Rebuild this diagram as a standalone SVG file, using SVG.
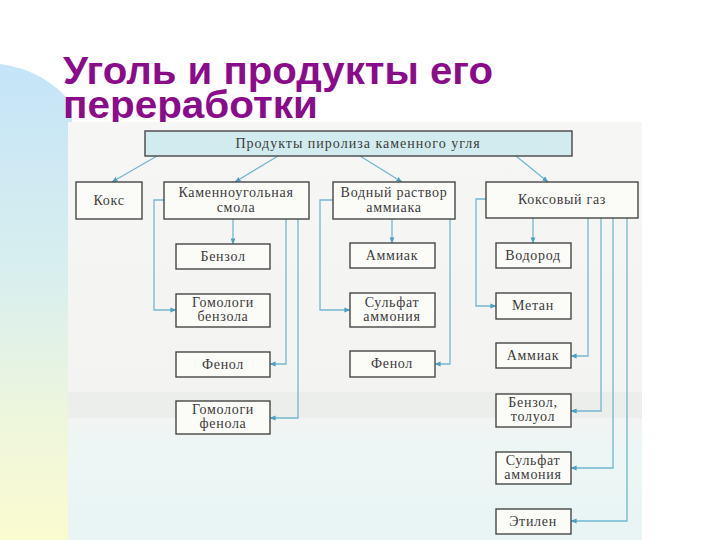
<svg xmlns="http://www.w3.org/2000/svg" width="720" height="540" viewBox="0 0 720 540">
<defs>
<linearGradient id="side" x1="0" y1="0" x2="0" y2="1">
<stop offset="0" stop-color="#c4e4f8"/>
<stop offset="0.45" stop-color="#d9efee"/>
<stop offset="0.75" stop-color="#eef6dc"/>
<stop offset="1" stop-color="#fbfbd0"/>
</linearGradient>
<linearGradient id="photo" x1="0" y1="0" x2="0" y2="1">
<stop offset="0" stop-color="#f6f6f4"/>
<stop offset="0.7" stop-color="#f3f4f2"/>
<stop offset="0.78" stop-color="#ecf6f5"/>
<stop offset="1" stop-color="#e8f5f4"/>
</linearGradient>
<marker id="arr" viewBox="0 0 8 8" refX="7.5" refY="4" markerWidth="6" markerHeight="6" markerUnits="userSpaceOnUse" orient="auto">
<path d="M0,0.8 L8,4 L0,7.2 Z" fill="#4f9fbd"/>
</marker>
<style>
.title{font-family:"Liberation Sans",Arial,sans-serif;font-weight:bold;font-size:38px;fill:#8a0c8a}
.box rect{fill:#fbfbf8;stroke:#464646;stroke-width:1.4}
.box text{font-family:"Liberation Serif","Times New Roman",serif;font-size:14px;letter-spacing:0.7px;fill:#3c3c3c;text-anchor:middle}
#top rect{fill:#d2ebee}
#top text{letter-spacing:1px}
.conn path{fill:none;stroke:#73b6cf;stroke-width:1.3;marker-end:url(#arr)}
</style>
</defs>
<rect width="720" height="540" fill="#ffffff"/>
<path d="M0,64 Q45,70 72,104 L72,540 L0,540 Z" fill="url(#side)"/>
<text class="title" x="63" y="84" textLength="430" lengthAdjust="spacingAndGlyphs">Уголь и продукты его</text>
<text class="title" x="63" y="118" textLength="255" lengthAdjust="spacingAndGlyphs">переработки</text>
<rect x="68" y="122" width="574" height="418" fill="url(#photo)"/>
<rect x="68" y="392" width="574" height="26" fill="#e6e7e4" opacity="0.5"/>

<g class="conn">
<path d="M157,156 L112,182"/>
<path d="M278,156 L235,182"/>
<path d="M360,156 L402,182"/>
<path d="M516,156 L548,182"/>
<path d="M233,219 V244"/>
<path d="M164,200 H154 V310 H176"/>
<path d="M286,219 V364 H270"/>
<path d="M298,219 V418 H270"/>
<path d="M392,219 V243"/>
<path d="M333,200 H320 V310 H350"/>
<path d="M450,219 V364 H435"/>
<path d="M533,218 V243"/>
<path d="M486,199 H476 V306 H496"/>
<path d="M588,218 V356 H571"/>
<path d="M601,218 V411 H571"/>
<path d="M613,218 V468 H571"/>
<path d="M627,218 V521 H571"/>
</g>

<g id="top" class="box"><rect x="145" y="131" width="427" height="25"/><text x="358" y="148">Продукты пиролиза каменного угля</text></g>
<g id="koks" class="box"><rect x="76" y="182" width="66" height="37"/><text x="109" y="205">Кокс</text></g>
<g id="smola" class="box"><rect x="164" y="182" width="145" height="37"/><text x="236" y="197">Каменноугольная</text><text x="236" y="212">смола</text></g>
<g id="voda" class="box"><rect x="333" y="182" width="122" height="37"/><text x="394" y="197">Водный раствор</text><text x="394" y="212">аммиака</text></g>
<g id="gaz" class="box"><rect x="486" y="182" width="152" height="36"/><text x="562" y="204">Коксовый газ</text></g>

<g id="benzol" class="box"><rect x="176" y="244" width="94" height="25"/><text x="223" y="261">Бензол</text></g>
<g id="gombenz" class="box"><rect x="176" y="294" width="94" height="33"/><text x="223" y="307">Гомологи</text><text x="223" y="321">бензола</text></g>
<g id="fenol1" class="box"><rect x="176" y="352" width="94" height="25"/><text x="223" y="369">Фенол</text></g>
<g id="gomfen" class="box"><rect x="176" y="401" width="94" height="33"/><text x="223" y="414">Гомологи</text><text x="223" y="428">фенола</text></g>

<g id="ammiak1" class="box"><rect x="350" y="243" width="85" height="25"/><text x="392" y="260">Аммиак</text></g>
<g id="sulf1" class="box"><rect x="350" y="293" width="85" height="34"/><text x="392" y="307">Сульфат</text><text x="392" y="321">аммония</text></g>
<g id="fenol2" class="box"><rect x="350" y="351" width="85" height="26"/><text x="392" y="368">Фенол</text></g>

<g id="vodorod" class="box"><rect x="496" y="243" width="75" height="25"/><text x="533" y="260">Водород</text></g>
<g id="metan" class="box"><rect x="496" y="293" width="75" height="26"/><text x="533" y="310">Метан</text></g>
<g id="ammiak2" class="box"><rect x="496" y="343" width="75" height="25"/><text x="533" y="360">Аммиак</text></g>
<g id="benztol" class="box"><rect x="496" y="394" width="75" height="33"/><text x="533" y="407">Бензол,</text><text x="533" y="421">толуол</text></g>
<g id="sulf2" class="box"><rect x="496" y="452" width="75" height="32"/><text x="533" y="465">Сульфат</text><text x="533" y="479">аммония</text></g>
<g id="etilen" class="box"><rect x="496" y="509" width="75" height="25"/><text x="533" y="526">Этилен</text></g>
</svg>
